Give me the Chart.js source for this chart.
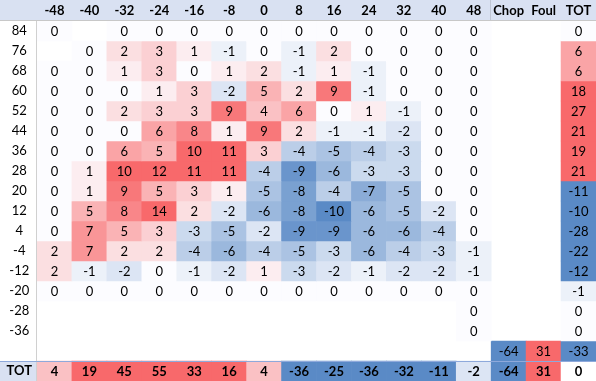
<!DOCTYPE html>
<html>
<head>
<meta charset="utf-8">
<script src="https://cdn.jsdelivr.net/npm/chart.js@4"></script>
<style>
html,body{margin:0;padding:0;background:#fff;}
#wrap{width:596px;height:381px;position:relative;}
</style>
</head>
<body>
<div id="wrap"><canvas id="c" width="596" height="381"></canvas></div>
<script>
const colLabels = ['-48','-40','-32','-24','-16','-8','0','8','16','24','32','40','48','Chop','Foul','TOT'];
const rowLabels = ['84','76','68','60','52','44','36','28','20','12','4','-4','-12','-20','-28','-36','','TOT'];

const r84  = [0, null, 0, 0, 0, 0, 0, 0, 0, 0, 0, 0, 0, null, null, 0];
const r76  = [null, 0, 2, 3, 1, -1, 0, -1, 2, 0, 0, 0, 0, null, null, 6];
const r68  = [0, 0, 1, 3, 0, 1, 2, -1, 1, -1, 0, 0, 0, null, null, 6];
const r60  = [0, 0, 0, 1, 3, -2, 5, 2, 9, -1, 0, 0, 0, null, null, 18];
const r52  = [0, 0, 2, 3, 3, 9, 4, 6, 0, 1, -1, 0, 0, null, null, 27];
const r44  = [0, 0, 0, 6, 8, 1, 9, 2, -1, -1, -2, 0, 0, null, null, 21];
const r36  = [0, 0, 6, 5, 10, 11, 3, -4, -5, -4, -3, 0, 0, null, null, 19];
const r28  = [0, 1, 10, 12, 11, 11, -4, -9, -6, -3, -3, 0, 0, null, null, 21];
const r20  = [0, 1, 9, 5, 3, 1, -5, -8, -4, -7, -5, 0, 0, null, null, -11];
const r12  = [0, 5, 8, 14, 2, -2, -6, -8, -10, -6, -5, -2, 0, null, null, -10];
const r4   = [0, 7, 5, 3, -3, -5, -2, -9, -9, -6, -6, -4, 0, null, null, -28];
const rm4  = [2, 7, 2, 2, -4, -6, -4, -5, -3, -6, -4, -3, -1, null, null, -22];
const rm12 = [2, -1, -2, 0, -1, -2, 1, -3, -2, -1, -2, -2, -1, null, null, -12];
const rm20 = [0, 0, 0, 0, 0, 0, 0, 0, 0, 0, 0, 0, 0, null, null, -1];
const rm28 = [null, null, null, null, null, null, null, null, null, null, null, null, 0, null, null, 0];
const rm36 = [null, null, null, null, null, null, null, null, null, null, null, null, 0, null, null, 0];
const rChopFoul = [null, null, null, null, null, null, null, null, null, null, null, null, null, -64, 31, -33];
const rTot = [4, 19, 45, 55, 33, 16, 4, -36, -25, -36, -32, -11, -2, -64, 31, 0];

const rows = [r84, r76, r68, r60, r52, r44, r36, r28, r20, r12, r4, rm4, rm12, rm20, rm28, rm36, rChopFoul, rTot];

const FONT = 'Lato, "Open Sans", sans-serif';
const LIM = 10;
function cellColor(v) {
  const w = [252, 252, 255];
  const red = [248, 105, 107];
  const blue = [90, 138, 198];
  let t = Math.max(-1, Math.min(1, v / LIM));
  const tgt = t >= 0 ? red : blue;
  t = Math.abs(t);
  const c = w.map((a, i) => Math.round(a + (tgt[i] - a) * t));
  return 'rgb(' + c.join(',') + ')';
}

const datasets = rows.map((vals, ri) => ({
  label: rowLabels[ri],
  data: vals.map(v => v === null ? null : [ri - 0.5, ri + 0.5]),
  values: vals,
  backgroundColor: vals.map(v => v === null ? 'rgba(0,0,0,0)' : (ri === 17 && v === 0 ? '#ffffff' : cellColor(v))),
  borderWidth: 0,
  grouped: false,
  barPercentage: 1,
  categoryPercentage: 1,
  bold: ri === 17
}));

const decor = {
  id: 'decor',
  beforeDraw(chart) {
    const ctx = chart.ctx;
    const ca = chart.chartArea;
    const y = chart.scales.y;
    ctx.save();
    ctx.fillStyle = '#D9E1F2';
    ctx.fillRect(0, 0, chart.width, ca.top);
    const totTop = y.getPixelForValue(16.5);
    ctx.fillRect(0, totTop, ca.left, chart.height - totTop);
    ctx.restore();
  },
  afterDatasetsDraw(chart) {
    const ctx = chart.ctx;
    const ca = chart.chartArea;
    const x = chart.scales.x;
    const y = chart.scales.y;
    ctx.save();
    ctx.textAlign = 'center';
    ctx.textBaseline = 'middle';
    chart.data.datasets.forEach((ds, di) => {
      const meta = chart.getDatasetMeta(di);
      ctx.font = (ds.bold ? 'bold ' : '') + '13px ' + FONT;
      ctx.fillStyle = '#000';
      meta.data.forEach((el, i) => {
        const v = ds.values[i];
        if (v === null || v === undefined) return;
        const cy = (el.y + el.base) / 2;
        ctx.fillText(String(v), el.x, cy + 0.5);
      });
    });
    ctx.strokeStyle = '#C8C8C8';
    ctx.lineWidth = 1;
    ctx.beginPath();
    ctx.moveTo(0, Math.round(ca.top) - 0.5);
    ctx.lineTo(chart.width, Math.round(ca.top) - 0.5);
    ctx.stroke();
    ctx.strokeStyle = '#D0D0D0';
    ctx.beginPath();
    ctx.moveTo(Math.round(ca.left) - 0.5, ca.top);
    ctx.lineTo(Math.round(ca.left) - 0.5, chart.height);
    ctx.stroke();
    const sepX = (x.getPixelForValue(12) + x.getPixelForValue(13)) / 2;
    ctx.strokeStyle = '#BFC6D4';
    ctx.beginPath();
    ctx.moveTo(Math.round(sepX) - 0.5, 0);
    ctx.lineTo(Math.round(sepX) - 0.5, ca.top - 1);
    ctx.stroke();
    const totTop = y.getPixelForValue(16.5);
    ctx.strokeStyle = '#8EA9DB';
    ctx.beginPath();
    ctx.moveTo(0, Math.round(totTop) + 0.5);
    ctx.lineTo(chart.width, Math.round(totTop) + 0.5);
    ctx.stroke();
    ctx.restore();
  }
};

new Chart(document.getElementById('c'), {
  type: 'bar',
  data: { labels: colLabels, datasets },
  options: {
    responsive: false,
    animation: false,
    maintainAspectRatio: false,
    layout: { padding: 0 },
    plugins: { legend: { display: false }, tooltip: { enabled: false } },
    scales: {
      x: {
        type: 'category',
        position: 'top',
        offset: true,
        grid: { display: false, drawTicks: false },
        border: { display: false },
        ticks: {
          font: { family: FONT, size: 13, weight: 'bold' },
          color: '#000',
          padding: 2,
          maxRotation: 0,
          autoSkip: false
        },
        afterFit(s) { s.height = 21; s.paddingLeft = 0; s.paddingRight = 0; }
      },
      y: {
        type: 'linear',
        reverse: true,
        min: -0.5,
        max: 17.5,
        grid: { display: false, drawTicks: false },
        border: { display: false },
        afterBuildTicks(s) { s.ticks = rowLabels.map((_, i) => ({ value: i })); },
        ticks: {
          autoSkip: false,
          crossAlign: 'center',
          padding: 5,
          color: '#000',
          font: ctx => ({ family: FONT, size: 13, weight: (ctx.tick && ctx.tick.value === 17) ? 'bold' : 'normal' }),
          callback: v => rowLabels[v]
        },
        afterFit(s) { s.width = 37; s.paddingTop = 0; s.paddingBottom = 0; }
      }
    }
  },
  plugins: [decor]
});
</script>
</body>
</html>
